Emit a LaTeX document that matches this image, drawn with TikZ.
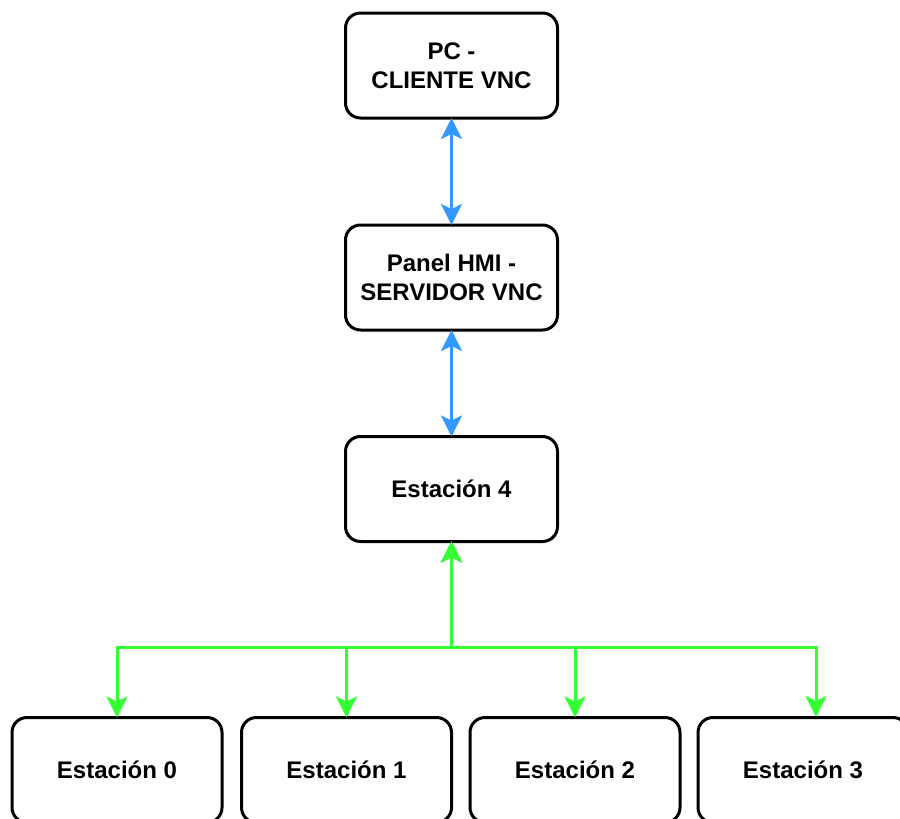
\documentclass[tikz,border=0pt]{standalone}
\usepackage{fontspec}
\setmainfont{Liberation Sans}
\usetikzlibrary{arrows.meta}
\definecolor{linkblue}{HTML}{3399FF}
\definecolor{linkgreen}{HTML}{33FF33}
\tikzset{
  station/.style={draw=black, line width=3pt, rounded corners=15pt, fill=white,
    minimum width=212pt, minimum height=105pt, inner sep=0pt, outer sep=0pt,
    align=center, font=\bfseries\fontsize{24}{28.5}\selectfont},
  bluelink/.style={draw=linkblue, line width=3pt,
    {Stealth[length=21pt, width=21pt, inset=5pt]}-{Stealth[length=21pt, width=21pt, inset=5pt]}},
  greenlink/.style={draw=linkgreen, line width=3pt,
    {Stealth[length=21pt, width=21pt, inset=5pt]}-{Stealth[length=21pt, width=21pt, inset=5pt]}},
}
\begin{document}
\begin{tikzpicture}[x=1pt, y=-1pt]
  \useasboundingbox (0,0) rectangle (900,819);
  \clip (0,0) rectangle (900,819);

  % upper chain
  \node[station] (pc)  at (451.5,65.5)  {PC -\\CLIENTE VNC};
  \node[station] (hmi) at (451.5,277.5) {Panel HMI -\\SERVIDOR VNC};
  \node[station] (e4)  at (451.5,489)   {Estación 4};

  % lower row of stations
  \node[station, minimum width=210pt] (e0) at (117,770)   {Estación 0};
  \node[station, minimum width=210pt] (e1) at (346.5,770) {Estación 1};
  \node[station, minimum width=210pt] (e2) at (575,770)   {Estación 2};
  \node[station, minimum width=210pt] (e3) at (803,770)   {Estación 3};

  \coordinate (bus) at (451.5,647);
  \coordinate (e3in) at (816,717);

  \draw[bluelink] (pc.south) -- (hmi.north);
  \draw[bluelink] (hmi.south) -- (e4.north);

  \draw[greenlink] (e4.south) -- (bus) -| (e0.north);
  \draw[greenlink] (e4.south) -- (bus) -| (e1.north);
  \draw[greenlink] (e4.south) -- (bus) -| (e2.north);
  \draw[greenlink] (e4.south) -- (bus) -| (e3in);
\end{tikzpicture}
\end{document}
